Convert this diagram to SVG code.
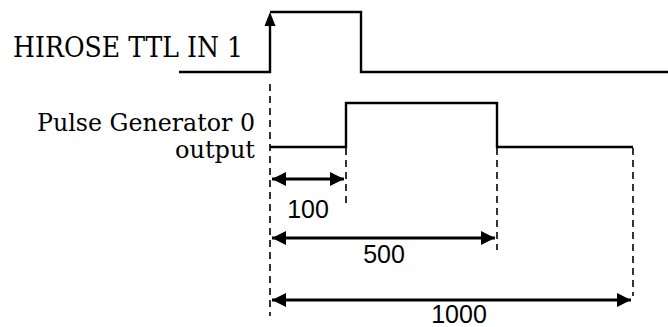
<svg xmlns="http://www.w3.org/2000/svg" width="668" height="327" viewBox="0 0 668 327">
<defs>
<marker id="ah" viewBox="0 0 14 14" refX="14" refY="7" markerWidth="14" markerHeight="14" markerUnits="userSpaceOnUse" orient="auto-start-reverse">
<path d="M0,0 L14,7 L0,14 Z" fill="#000"/>
</marker>
</defs>
<style>
.sig{fill:none;stroke:#000;stroke-width:2.4;stroke-linejoin:miter}
.dash{fill:none;stroke:#000;stroke-width:1.6;stroke-dasharray:7,5}
.dim{fill:none;stroke:#000;stroke-width:3}
.lbl{font-family:"DejaVu Serif","Liberation Serif",serif;fill:#000}
.num{font-family:"Liberation Sans",Arial,sans-serif;font-size:25px;fill:#000;text-anchor:middle}
</style>
<rect width="668" height="327" fill="#fff"/>
<g id="hirose">
<text class="lbl" x="13" y="57" font-size="27" textLength="230" lengthAdjust="spacingAndGlyphs">HIROSE TTL IN 1</text>
<path class="sig" d="M179,72 H270 V25"/>
<path class="sig" d="M270,12 H361 V72 H668"/>
<path d="M270,12 L275.5,26 L264.5,26 Z" fill="#000"/>
</g>
<g id="pulse">
<text class="lbl" x="37" y="131" font-size="24" textLength="218" lengthAdjust="spacingAndGlyphs">Pulse Generator 0</text>
<text class="lbl" x="255" y="158" font-size="24" text-anchor="end">output</text>
<path class="sig" d="M270,147 H346 V103 H497 V147 H633"/>
</g>
<g id="connectors">
<path class="dash" d="M270,84 V316"/>
<path class="dash" d="M346,148 V208"/>
<path class="dash" d="M497,148 V250"/>
<path class="dash" d="M633,148 V296"/>
<path class="dim" d="M272,179 H344" marker-start="url(#ah)" marker-end="url(#ah)"/>
<path class="dim" d="M272,238 H495" marker-start="url(#ah)" marker-end="url(#ah)"/>
<path class="dim" d="M272,300 H631" marker-start="url(#ah)" marker-end="url(#ah)"/>
</g>
<g id="labels">
<text class="num" x="308" y="218">100</text>
<text class="num" x="384" y="263">500</text>
<text class="num" x="459" y="323">1000</text>
</g>
</svg>
